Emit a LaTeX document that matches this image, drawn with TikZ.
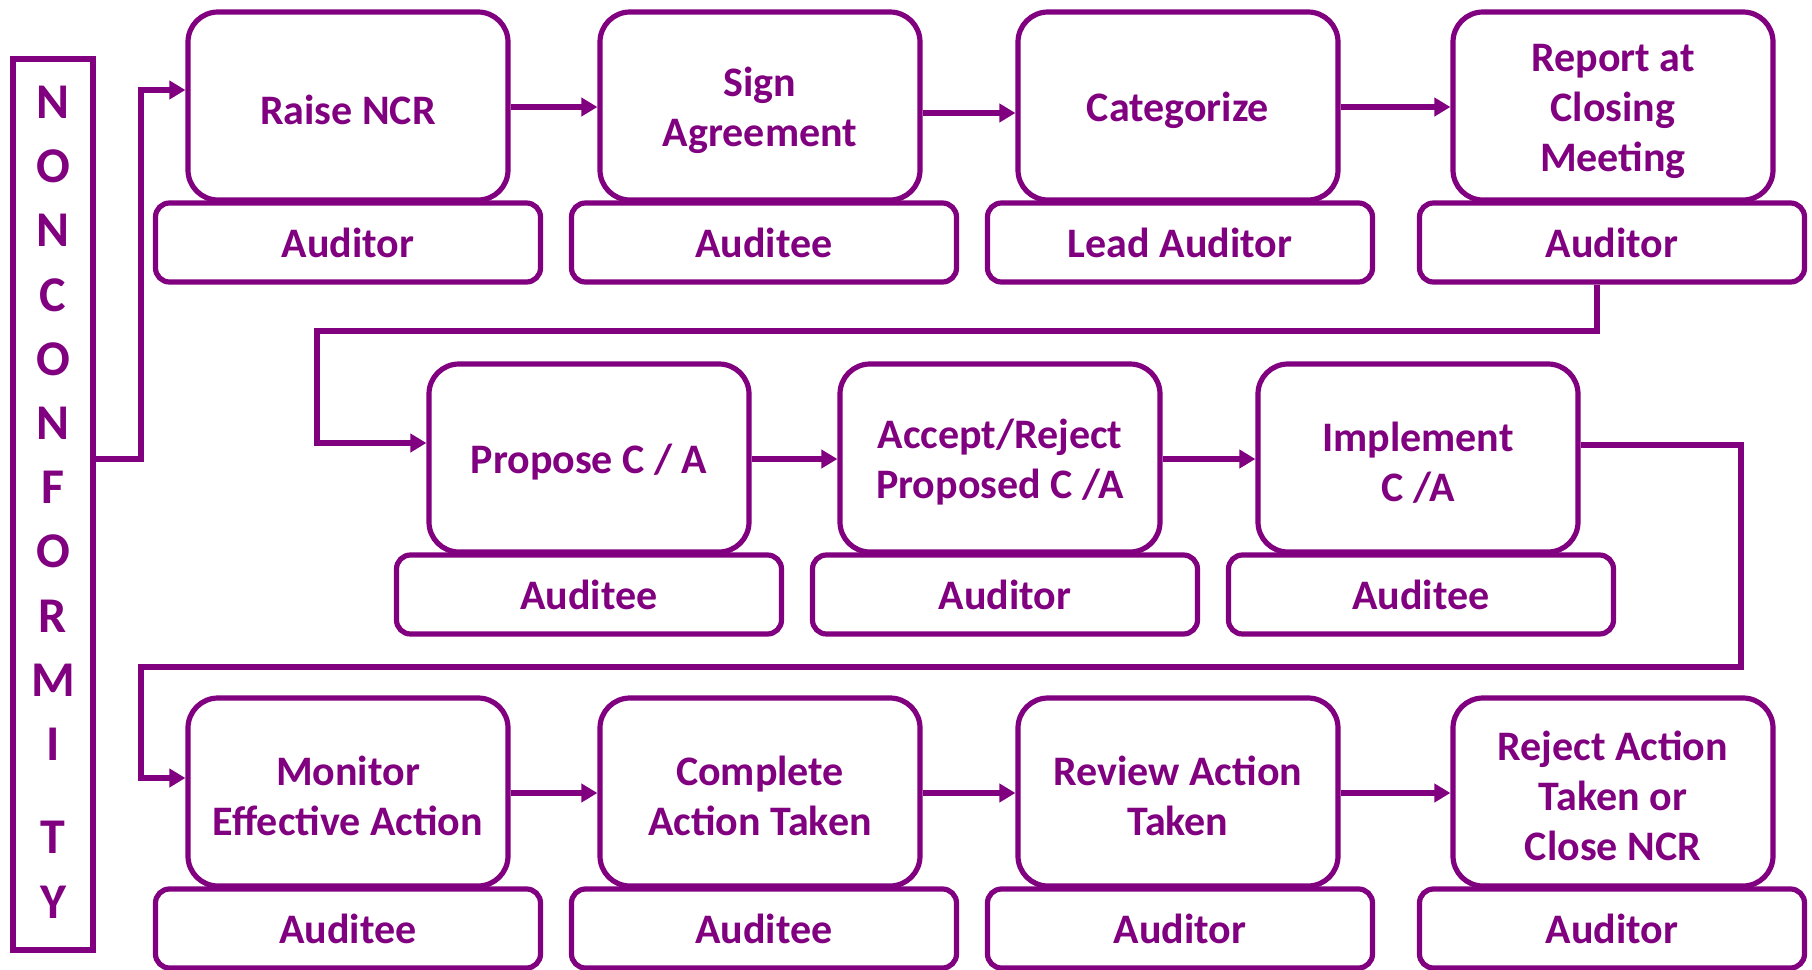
\documentclass[tikz,border=0pt]{standalone}
\usepackage{fontspec}
\newfontfamily\carl{Carlito}
\usetikzlibrary{arrows.meta}
\definecolor{pur}{RGB}{128,0,128}
\newcommand\myst{\rule{0pt}{19pt}}
\tikzset{
  mainbox/.style={draw=pur, line width=2.6pt, rounded corners=15pt, fill=white,
    minimum width=160pt, minimum height=94pt, align=center, text=pur,
    font=\carl\bfseries\fontsize{21}{25}\selectfont},
  subbox/.style={draw=pur, line width=2.6pt, rounded corners=7pt, fill=white,
    minimum width=192.5pt, minimum height=39.5pt, text=pur,
    font=\carl\bfseries\fontsize{21}{25}\selectfont},
  ncbox/.style={draw=pur, line width=2.6pt, minimum width=40pt, minimum height=445.5pt},
  ncletter/.style={text=pur, anchor=base, inner sep=0pt,
    font=\carl\bfseries\fontsize{25}{30}\selectfont},
  conn/.style={draw=pur, line width=2.6pt},
  arr/.style={conn, -{Triangle[length=8pt,width=9pt]}},
}
\begin{document}
\begin{tikzpicture}[x=0.5pt,y=-0.5pt]
\useasboundingbox (0,0) rectangle (1812,970);
% left column
\node[ncbox] (nc) at (53,504.5) {};
\foreach \ch/\yy [count=\i] in {N/102,O/166,N/230,C/295,O/359,N/423,F/487,O/551,R/616,M/680,I/744,T/837,Y/902}
  \node[ncletter] (l\i) at (53,\yy+16) {\ch};
% row 1
\node[mainbox] (raise)  at (348,106)  {\myst Raise NCR};
\node[mainbox] (sign)   at (760,106)  {\myst Sign\\Agreement};
\node[mainbox] (categ)  at (1178,106) {\myst Categorize};
\node[mainbox] (report) at (1613,106) {\myst Report at\\Closing\\Meeting};
\node[subbox] (raiseS)  at (348,242.5)  {Auditor};
\node[subbox] (signS)   at (764,242.5)  {Auditee};
\node[subbox] (categS)  at (1180,242.5) {Lead Auditor};
\node[subbox] (reportS) at (1612,242.5) {Auditor};
% row 2
\node[mainbox] (propose)   at (589,458)  {\myst Propose C / A};
\node[mainbox] (accept)    at (1000,458) {\myst Accept/Reject\\Proposed C /A};
\node[mainbox] (implement) at (1418,458) {\myst Implement\\C /A};
\node[subbox] (proposeS)   at (589,594.5)  {Auditee};
\node[subbox] (acceptS)    at (1005,594.5) {Auditor};
\node[subbox] (implementS) at (1421,594.5) {Auditee};
% row 3
\node[mainbox] (monitor)  at (348,792)  {\myst Monitor\\Effective Action};
\node[mainbox] (complete) at (760,792)  {\myst Complete\\Action Taken};
\node[mainbox] (review)   at (1178,792) {\myst Review Action\\Taken};
\node[mainbox] (reject)   at (1613,792) {\myst Reject Action\\Taken or\\Close NCR};
\node[subbox] (monitorS)  at (348,928.5)  {Auditee};
\node[subbox] (completeS) at (764,928.5)  {Auditee};
\node[subbox] (reviewS)   at (1180,928.5) {Auditor};
\node[subbox] (rejectS)   at (1612,928.5) {Auditor};
% junctions
\coordinate (j1) at (141,90);
\coordinate (j2) at (1597,331);
\coordinate (j3) at (317,443);
\coordinate (j4) at (1741,667);
\coordinate (j5) at (141,778);
% connectors
\draw[arr] (nc.east |- 0,459) -| (j1) -- (raise.west |- j1);
\draw[arr] (raise.east |- 0,107) -- (sign.west |- 0,107);
\draw[arr] (sign.east |- 0,113) -- (categ.west |- 0,113);
\draw[arr] (categ.east |- 0,107) -- (report.west |- 0,107);
\draw[arr] (reportS.south -| j2) -- (j2) -| (j3) -- (propose.west |- j3);
\draw[arr] (propose.east |- 0,459) -- (accept.west |- 0,459);
\draw[arr] (accept.east |- 0,459) -- (implement.west |- 0,459);
\draw[arr] (implement.east |- 0,445) -| (j4) -| (j5) -- (monitor.west |- j5);
\draw[arr] (monitor.east |- 0,793) -- (complete.west |- 0,793);
\draw[arr] (complete.east |- 0,793) -- (review.west |- 0,793);
\draw[arr] (review.east |- 0,793) -- (reject.west |- 0,793);
\end{tikzpicture}
\end{document}
